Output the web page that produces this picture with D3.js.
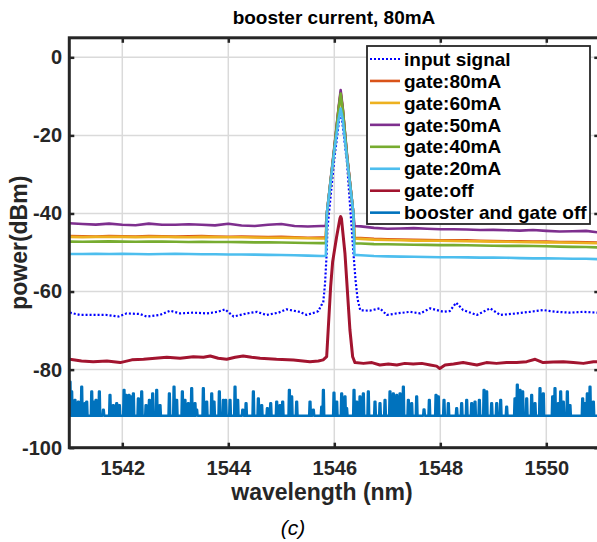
<!DOCTYPE html>
<html>
<head>
<meta charset="utf-8">
<script src="https://cdn.jsdelivr.net/npm/d3@7/dist/d3.min.js"></script>
<style>
  body { margin: 0; background: #fff; }
  text { font-family: "Liberation Sans", Arial, Helvetica, sans-serif; }
</style>
</head>
<body>
<svg id="chart" width="597" height="542"></svg>
<script>
// ---------- data ----------
const xTicks = [1542, 1544, 1546, 1548, 1550];
const yTicks = [0, -20, -40, -60, -80, -100];

const seriesNames = ["input signal", "gate:80mA", "gate:60mA", "gate:50mA",
                     "gate:40mA", "gate:20mA", "gate:off", "booster and gate off"];
const seriesColors = ["#0000FF", "#D95319", "#EDB120", "#7E2F8E",
                      "#77AC30", "#4DBEEE", "#A2142F", "#0072BD"];

// wavelength samples (nm) shared by the amplified gate traces
const gateWl = [1541.00,1541.25,1541.50,1541.75,1542.00,1542.25,1542.50,1542.75,1543.00,1543.25,
                1543.50,1543.75,1544.00,1544.25,1544.50,1544.75,1545.00,1545.25,1545.50,1545.75,
                1545.84,1545.86,1546.00,1546.08,1546.12,1546.16,1546.24,1546.36,1546.38,
                1546.50,1546.75,1547.00,1547.25,1547.50,1547.75,1548.00,1548.25,1548.50,1548.75,
                1549.00,1549.25,1549.50,1549.75,1550.00,1550.25,1550.50,1550.75,1551.00];

const gate80 = [-45.8,-45.85,-45.9,-45.8,-45.85,-45.9,-45.8,-45.85,-45.9,-45.85,
                -45.8,-45.9,-45.95,-45.9,-46.0,-46.05,-46.0,-46.1,-46.2,-46.15,
                -46.15,-40,-23.5,-13.3,-9.0,-13.3,-25.3,-40,-46.2,
                -46.3,-46.5,-46.6,-46.7,-46.75,-46.8,-46.85,-46.9,-46.9,-47.0,
                -47.05,-47.1,-47.15,-47.2,-47.2,-47.3,-47.35,-47.4,-47.45];

const gate60 = [-46.0,-46.05,-46.0,-45.95,-46.0,-46.05,-46.0,-45.95,-46.05,-46.1,
                -46.0,-46.05,-46.1,-46.1,-46.15,-46.2,-46.2,-46.25,-46.35,-46.4,
                -46.4,-40,-23.6,-13.5,-9.6,-13.5,-25.5,-40,-46.4,
                -46.5,-46.7,-46.8,-46.85,-46.95,-47.0,-47.0,-47.05,-47.1,-47.15,
                -47.2,-47.25,-47.3,-47.35,-47.4,-47.45,-47.5,-47.55,-47.65];

const gate50 = [-42.5,-42.7,-42.85,-42.6,-42.9,-43.0,-42.6,-42.9,-42.9,-42.75,
                -42.9,-43.05,-42.65,-43.1,-43.2,-42.9,-42.7,-43.2,-43.35,-43.2,
                -43.2,-40,-23,-13,-8.4,-13,-25,-40,-43.2,
                -43.3,-43.7,-43.9,-43.85,-43.75,-43.9,-44.05,-44.05,-44.1,-44.25,
                -44.2,-44.3,-44.4,-44.25,-44.45,-44.6,-44.55,-44.45,-44.9];

const gate40 = [-47.2,-47.25,-47.2,-47.15,-47.2,-47.25,-47.2,-47.2,-47.25,-47.3,
                -47.25,-47.3,-47.3,-47.35,-47.4,-47.4,-47.45,-47.5,-47.55,-47.6,
                -47.6,-40,-23.4,-13.4,-9.3,-13.4,-25.4,-40,-47.65,
                -47.7,-47.85,-47.9,-47.95,-48.0,-48.05,-48.1,-48.1,-48.15,-48.2,
                -48.25,-48.3,-48.3,-48.35,-48.4,-48.5,-48.55,-48.6,-48.7];

const gate20 = [-50.4,-50.4,-50.35,-50.4,-50.35,-50.4,-50.45,-50.4,-50.35,-50.4,
                -50.45,-50.45,-50.5,-50.5,-50.55,-50.6,-50.65,-50.7,-50.8,-50.9,
                -50.9,-40,-24,-16,-13.1,-16,-26,-40,-50.6,
                -50.7,-50.9,-51.0,-51.05,-51.1,-51.15,-51.2,-51.2,-51.25,-51.3,
                -51.3,-51.35,-51.45,-51.5,-51.5,-51.55,-51.6,-51.6,-51.7];

// input signal (dotted trace)
const inputWl = [1541.01,1541.20,1541.45,1541.70,1541.93,1542.08,1542.33,1542.46,1542.71,1542.90,
                 1543.09,1543.34,1543.59,1543.80,1543.94,1544.10,1544.35,1544.54,1544.72,1544.95,
                 1545.10,1545.35,1545.48,1545.67,1545.70,1545.75,1545.79,1545.825,1545.857,1545.87,
                 1546.00,1546.12,1546.24,1546.36,1546.40,1546.44,1546.49,1546.67,1546.86,1546.99,
                 1547.18,1547.43,1547.62,1547.81,1548.06,1548.18,1548.30,1548.43,1548.69,1548.94,
                 1549.13,1549.44,1549.69,1549.94,1550.20,1550.45,1550.70,1550.95,1551.00];
const inputDb = [-65.4,-66.0,-66.0,-66.0,-66.4,-65.6,-65.75,-66.4,-66.0,-64.9,
                 -65.6,-65.4,-65.6,-65.2,-64.56,-66.4,-65.6,-65.2,-66.0,-65.4,
                 -64.56,-65.2,-66.0,-65.2,-65.0,-63.6,-63.0,-58,-50,-44,
                 -26,-13,-27,-50,-57,-62,-64.8,-64.9,-64.3,-66.0,
                 -65.6,-65.2,-65.6,-64.3,-65.2,-65.0,-62.85,-64.75,-66.0,-64.3,
                 -66.0,-65.6,-65.2,-64.75,-65.2,-65.4,-65.2,-65.4,-65.3];

// gate off trace
const offWl = [1541.01,1541.23,1541.45,1541.71,1541.96,1542.18,1542.40,1542.62,1542.84,1543.09,
               1543.34,1543.53,1543.66,1543.81,1543.97,1544.13,1544.28,1544.44,1544.60,1544.91,
               1545.23,1545.54,1545.70,1545.79,1545.856,1545.931,1545.969,1546.044,1546.107,1546.12,
               1546.135,1546.201,1546.295,1546.346,1546.39,1546.55,1546.71,1546.86,1547.02,1547.18,
               1547.33,1547.49,1547.65,1547.81,1547.93,1547.99,1548.09,1548.25,1548.43,1548.69,
               1548.87,1549.06,1549.25,1549.44,1549.63,1549.79,1549.94,1550.13,1550.32,1550.51,
               1550.70,1550.89,1551.00];
const offDb = [-77.36,-77.8,-77.96,-77.8,-78.2,-77.5,-77.36,-77.1,-76.85,-77.1,
               -76.7,-76.85,-76.5,-77.1,-77.36,-76.85,-76.5,-76.85,-77.1,-77.36,
               -77.53,-77.96,-77.8,-77.5,-76.7,-58.75,-52.35,-45.95,-41.25,-40.8,
               -41.3,-50.2,-69.85,-76.7,-78.2,-78.4,-78.2,-78.8,-78.55,-78.8,
               -78.4,-78.55,-78.4,-78.8,-79.1,-79.7,-78.8,-78.55,-78.2,-78.8,
               -78.2,-78.4,-78.2,-78.2,-77.96,-77.36,-78.2,-78.05,-77.96,-78.2,
               -78.4,-77.96,-78.0];

// booster and gate off: noise floor and the spikes rising above it
const noiseFloorDb = -91.8;
const spikeWl = [1541.014,1541.045,1541.108,1541.171,1541.234,1541.297,1541.328,1541.423,1541.454,1541.504,
                 1541.567,1541.643,1541.768,1541.831,1541.894,1541.945,1542.033,1542.070,1542.127,1542.158,
                 1542.209,1542.303,1542.366,1542.448,1542.511,1542.573,1542.649,1542.712,1542.888,1542.976,
                 1543.026,1543.133,1543.183,1543.246,1543.309,1543.372,1543.404,1543.529,1543.592,1543.687,
                 1543.731,1543.831,1543.907,1543.951,1544.033,1544.127,1544.177,1544.272,1544.335,1544.473,
                 1544.567,1544.630,1544.737,1544.800,1544.913,1544.976,1545.026,1545.152,1545.196,1545.290,
                 1545.542,1545.605,1545.762,1545.794,1545.994,1546.045,1546.139,1546.202,1546.233,1546.372,
                 1546.422,1546.485,1546.548,1546.642,1546.768,1546.862,1546.957,1547.051,1547.114,1547.177,
                 1547.240,1547.303,1547.397,1547.460,1547.554,1547.693,1547.793,1547.919,1547.963,1548.070,
                 1548.152,1548.309,1548.403,1548.498,1548.592,1548.655,1548.737,1548.825,1548.875,1548.969,
                 1549.064,1549.139,1549.252,1549.409,1549.453,1549.504,1549.554,1549.630,1549.724,1549.787,
                 1549.881,1549.944,1550.120,1550.164,1550.227,1550.271,1550.321,1550.397,1550.447,1550.686,
                 1550.730,1550.774,1550.825,1550.888];
const spikeDb = [-83.1,-85.6,-87.8,-88.2,-84.4,-88.6,-88.2,-85.6,-88.2,-87.8,
                 -85.6,-90.3,-86.5,-89.1,-88.6,-89.1,-85.2,-86.5,-86.5,-86.9,
                 -86.1,-87.4,-85.6,-89.1,-87.8,-86.1,-85.2,-89.1,-86.1,-84.4,
                 -87.8,-85.6,-87.8,-88.6,-84.8,-88.6,-90.3,-84.8,-88.2,-86.1,
                 -88.2,-85.6,-87.8,-87.8,-87.8,-84.4,-87.8,-90.3,-88.6,-85.6,
                 -87.4,-89.1,-89.9,-88.6,-88.2,-89.1,-88.2,-85.2,-86.9,-88.2,
                 -88.2,-90.3,-89.5,-85.2,-85.9,-88.2,-86.1,-86.9,-89.9,-85.2,
                 -88.2,-86.9,-86.1,-85.6,-88.2,-88.6,-87.8,-85.6,-86.1,-86.5,
                 -86.1,-84.4,-87.8,-88.6,-86.9,-90.2,-87.8,-86.5,-86.9,-87.8,
                 -88.6,-89.9,-88.6,-87.8,-88.6,-88.2,-87.8,-85.2,-85.6,-88.6,
                 -88.6,-87.8,-89.5,-87.4,-83.9,-85.2,-85.6,-87.4,-86.5,-88.6,
                 -84.8,-86.1,-86.9,-84.8,-88.6,-85.6,-88.2,-85.6,-89.1,-87.4,
                 -88.6,-86.1,-84.4,-88.2];

// ---------- layout ----------
const x = d3.scaleLinear().domain([1541, 1551]).range([69.3, 599.3]);
const y = d3.scaleLinear().domain([-100, 5]).range([447.7, 37.8]);
const axisColor = "#262626";

const svg = d3.select("#chart");

svg.append("defs").append("clipPath").attr("id", "plotClip")
  .append("rect")
  .attr("x", x.range()[0]).attr("y", y.range()[1])
  .attr("width", x.range()[1] - x.range()[0])
  .attr("height", y.range()[0] - y.range()[1]);

// grid
const grid = svg.append("g").attr("stroke", "#dadada").attr("stroke-width", 1.5);
grid.selectAll("line.gx").data(xTicks).join("line")
  .attr("x1", d => x(d)).attr("x2", d => x(d))
  .attr("y1", y.range()[0]).attr("y2", y.range()[1]);
grid.selectAll("line.gy").data(yTicks.filter(d => d > -100)).join("line")
  .attr("y1", d => y(d)).attr("y2", d => y(d))
  .attr("x1", x.range()[0]).attr("x2", x.range()[1]);

// series
const line = d3.line().x(d => x(d[0])).y(d => y(d[1]));
const plot = svg.append("g").attr("clip-path", "url(#plotClip)").attr("fill", "none")
  .attr("stroke-linejoin", "round");

const zip = (a, b) => a.map((v, i) => [v, b[i]]);

const traces = [
  { pts: zip(inputWl, inputDb), color: seriesColors[0], width: 2.2, dash: "2,2" },
  { pts: zip(gateWl, gate80), color: seriesColors[1], width: 2.6 },
  { pts: zip(gateWl, gate60), color: seriesColors[2], width: 2.6 },
  { pts: zip(gateWl, gate50), color: seriesColors[3], width: 2.6 },
  { pts: zip(gateWl, gate40), color: seriesColors[4], width: 2.6 },
  { pts: zip(gateWl, gate20), color: seriesColors[5], width: 2.6 },
  { pts: zip(offWl, offDb), color: seriesColors[6], width: 3 }
];

// spiky noise trace built from the floor level and each spike's peak
const noisePts = [[1541, noiseFloorDb]];
spikeWl.forEach((w, i) => {
  noisePts.push([w - 0.016, noiseFloorDb], [w - 0.007, spikeDb[i]],
                [w + 0.007, spikeDb[i]], [w + 0.016, noiseFloorDb]);
});
noisePts.push([1551, noiseFloorDb]);
traces.push({ pts: noisePts, color: seriesColors[7], width: 2.5 });

traces.forEach(t => {
  plot.append("path")
    .attr("d", line(t.pts))
    .attr("stroke", t.color)
    .attr("stroke-width", t.width)
    .attr("stroke-dasharray", t.dash || null);
});

// axes (ticks point inward)
const tickFont = 20;
const gx = svg.append("g").attr("transform", `translate(0,${y.range()[0]})`)
  .call(d3.axisBottom(x).tickValues(xTicks).tickSize(-5).tickSizeOuter(0).tickPadding(13.5)
        .tickFormat(d3.format("d")));
const gxt = svg.append("g").attr("transform", `translate(0,${y.range()[1]})`)
  .call(d3.axisTop(x).tickValues(xTicks).tickSize(-5).tickSizeOuter(0).tickFormat(""));
const gy = svg.append("g").attr("transform", `translate(${x.range()[0]},0)`)
  .call(d3.axisLeft(y).tickValues(yTicks).tickSize(-5).tickSizeOuter(0).tickPadding(7.3)
        .tickFormat(d => d3.format("d")(d).replace("\u2212", "-")));
const gyr = svg.append("g").attr("transform", `translate(${x.range()[1]},0)`)
  .call(d3.axisRight(y).tickValues(yTicks).tickSize(-5).tickSizeOuter(0).tickFormat(""));

[gx, gxt, gy, gyr].forEach(g => {
  g.select(".domain").remove();
  g.selectAll(".tick line").attr("stroke", axisColor).attr("stroke-width", 2.5);
  g.selectAll(".tick text")
    .attr("fill", axisColor)
    .style("font-size", tickFont + "px")
    .style("font-weight", "bold")
    .style("font-family", '"Liberation Sans", Arial, sans-serif');
});

// axes box
svg.append("rect")
  .attr("x", x.range()[0]).attr("y", y.range()[1])
  .attr("width", x.range()[1] - x.range()[0])
  .attr("height", y.range()[0] - y.range()[1])
  .attr("fill", "none").attr("stroke", axisColor).attr("stroke-width", 3);

// title and labels
svg.append("text").attr("x", 334).attr("y", 24).attr("text-anchor", "middle")
  .style("font-size", "19px").style("font-weight", "bold").attr("fill", "#000")
  .text("booster current, 80mA");

svg.append("text").attr("x", 322).attr("y", 500).attr("text-anchor", "middle")
  .style("font-size", "23px").style("font-weight", "bold").attr("fill", axisColor)
  .text("wavelength (nm)");

svg.append("text")
  .attr("transform", `translate(27,${(y.range()[0] + y.range()[1]) / 2}) rotate(-90)`)
  .attr("text-anchor", "middle")
  .style("font-size", "23px").style("font-weight", "bold").attr("fill", axisColor)
  .text("power(dBm)");

svg.append("text").attr("x", 293).attr("y", 535).attr("text-anchor", "middle")
  .style("font-size", "21px").style("font-style", "italic").attr("fill", "#000")
  .text("(c)");

// legend
const lg = svg.append("g");
lg.append("rect").attr("x", 367).attr("y", 46).attr("width", 223).attr("height", 178)
  .attr("fill", "#fff").attr("stroke", axisColor).attr("stroke-width", 1.8);
seriesNames.forEach((name, i) => {
  const yy = 59 + i * 21.95;
  lg.append("line").attr("x1", 370).attr("x2", 400).attr("y1", yy).attr("y2", yy)
    .attr("stroke", seriesColors[i])
    .attr("stroke-width", i === 0 ? 2.2 : 2.6)
    .attr("stroke-dasharray", i === 0 ? "2,2" : null);
  lg.append("text").attr("x", 404).attr("y", yy).attr("dy", "0.35em")
    .style("font-size", "19px").style("font-weight", "bold").attr("fill", "#000")
    .text(name);
});
</script>
</body>
</html>
